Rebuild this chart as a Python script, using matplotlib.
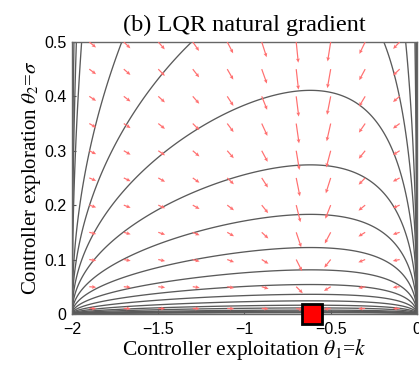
import numpy as np
import matplotlib
matplotlib.use("Agg")
import matplotlib.pyplot as plt

plt.rcParams['mathtext.fontset'] = 'stix'

# contour heights read at the top of each curve (sigma at k ~ -0.62)
contour_peaks = [4.7, 3.1, 2.08, 0.925, 0.617, 0.411, 0.274, 0.183, 0.122,
                 0.081, 0.054, 0.036, 0.024, 0.016, 0.011, 0.007, 0.005, 0.0033, 0.0022]

# quiver grid
arrow_k = [-1.9, -1.7, -1.5, -1.3, -1.1, -0.9, -0.7, -0.5, -0.3, -0.1]
arrow_sigma = [0.01, 0.05, 0.10, 0.15, 0.20, 0.25, 0.30, 0.35, 0.40, 0.45, 0.50]

k_opt = -0.61
arrow_len = 0.04

xticks = [-2, -1.5, -1, -0.5, 0]
xticklabels = ['\u22122', '\u22121.5', '\u22121', '\u22120.5', '0']
yticks = [0, 0.1, 0.2, 0.3, 0.4, 0.5]
yticklabels = ['0', '0.1', '0.2', '0.3', '0.4', '0.5']


def P(k):
    # stationary LQR value for x' = x + u, r = x^2 + u^2
    return (1 + k**2) / (-k * (2 + k))


def dP(k):
    N = 1 + k**2
    D = -k * (2 + k)
    return (2 * k * D + N * (2 + 2 * k)) / D**2


def J(k, s):
    return s**2 * (1 + P(k))


kk = np.linspace(-1.99995, -0.00005, 900)
ss = np.linspace(0, 0.5, 500)
K, S = np.meshgrid(kk, ss)
Z = J(K, S)
levels = sorted(J(k_opt, np.array(contour_peaks)))

fig = plt.figure(figsize=(4.19, 3.68), dpi=100)
ax = fig.add_axes([0.172, 0.147, 0.823, 0.739])

ax.contour(K, S, Z, levels=levels, colors='#5a5a5a', linewidths=0.95)

# natural gradient directions (Fisher of gaussian policy), drawn as unit vectors
AK, AS = np.meshgrid(arrow_k, arrow_sigma)
D = -AK * (2 + AK)
dk = -AS**2 * dP(AK) * D
ds = -AS**3 * (1 + P(AK))
n = np.sqrt(dk**2 + ds**2)
U = dk / n * arrow_len
V = ds / n * arrow_len
ax.quiver(AK, AS, U, V, angles='xy', scale_units='xy', scale=1,
          color='#ff7070', width=0.0035, headwidth=3.2, headlength=3.5,
          headaxislength=3, zorder=3)

ax.plot([k_opt], [0], marker='s', markersize=14, markerfacecolor='red',
        markeredgecolor='black', markeredgewidth=2, clip_on=False, zorder=5)

ax.set_xlim(-2, 0)
ax.set_ylim(0, 0.5)
ax.set_xticks(xticks)
ax.set_xticklabels(xticklabels)
ax.set_yticks(yticks)
ax.set_yticklabels(yticklabels)
ax.tick_params(direction='in', length=3, labelsize=11.5, color='#555555')
ax.tick_params(axis='x', pad=6)
ax.tick_params(axis='y', pad=4)
for lab in ax.get_xticklabels() + ax.get_yticklabels():
    lab.set_family('Liberation Sans')
for sp in ax.spines.values():
    sp.set_color('#666666')
    sp.set_linewidth(1.0)

ax.set_title('(b) LQR natural gradient', family='Liberation Serif', fontsize=17.5, pad=8)
ax.set_xlabel(r'Controller exploitation $\theta_{\mathit{1}}$=$k$', family='Liberation Serif',
              fontsize=15.5, labelpad=0)
ax.set_ylabel(r'Controller exploration $\theta_{\mathit{2}}$=$\sigma$', family='Liberation Serif',
              fontsize=15, labelpad=1)

fig.savefig('out.png', dpi=100)
